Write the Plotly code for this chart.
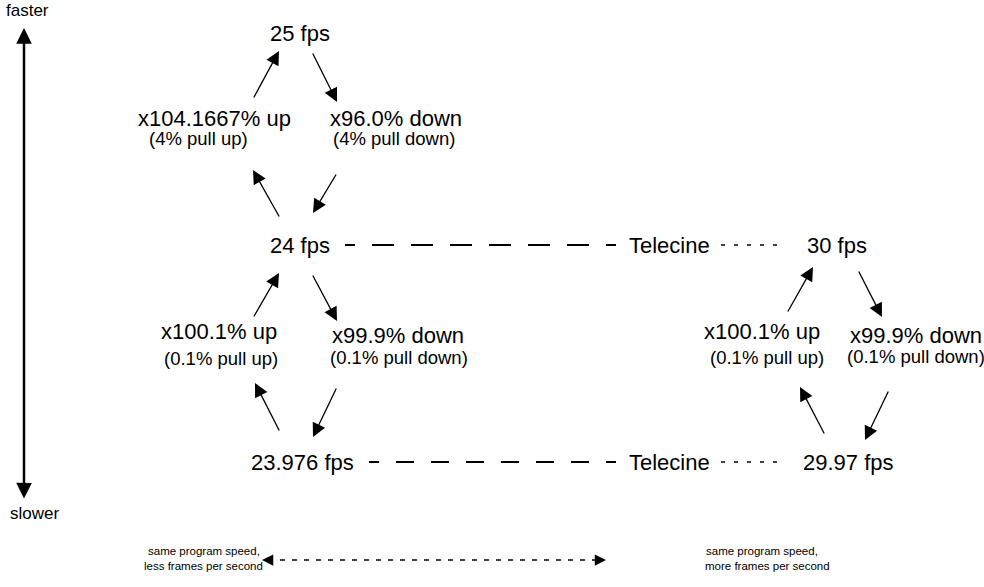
import plotly.graph_objects as go

W, H = 984, 587
MAIN_FONT = "Arial, 'Liberation Sans', sans-serif"

# ---- frame-rate nodes ----
rate_labels = ["25 fps", "24 fps", "30 fps", "23.976 fps", "29.97 fps"]
rate_x = [300, 300, 837, 302, 848]
rate_y = [33, 245, 245, 462, 462]

# ---- conversion labels ----
conv_labels = ["x104.1667% up", "x96.0% down", "x100.1% up", "x99.9% down",
               "x100.1% up", "x99.9% down"]
conv_x = [214, 396, 219, 398, 762, 916]
conv_y = [118, 118, 331, 335, 331, 335]

pull_labels = ["(4% pull up)", "(4% pull down)", "(0.1% pull up)", "(0.1% pull down)",
               "(0.1% pull up)", "(0.1% pull down)"]
pull_x = [198, 394, 221, 399, 767, 916]
pull_y = [138, 138, 358, 357, 357, 356]

# ---- conversion arrows (tail -> tip) ----
arrow_tail_x = [253, 312, 280, 337, 253, 312, 280, 337, 787, 858, 825, 889]
arrow_tail_y = [99, 52, 218, 173, 318, 274, 432, 387, 313, 270, 435, 390]
arrow_tip_x = [279, 337, 253, 313, 279, 337, 255, 313, 813, 882, 800, 865]
arrow_tip_y = [51, 102, 170, 213, 273, 321, 383, 437, 267, 317, 387, 440]

# ---- telecine links ----
telecine_labels = ["Telecine", "Telecine"]
telecine_x = [669, 669]
telecine_y = [245, 462]
dash_start_x = [345, 369]
dash_end_x = [617, 617]
dash_patterns = [
    "10px,17px,22px,17px,22px,17px,22px,17px,22px,17px,22px,17px,22px,17px,10px,60px",
    "10px,17px,18px,17px,18px,17px,18px,17px,18px,17px,18px,17px,18px,17px,10px,60px",
]
dot_start_x = [721, 721]
dot_end_x = [783, 783]

# ---- speed axis ----
speed_labels = ["faster", "slower"]
speed_label_x = [4, 8]
speed_label_y = [10, 513]
speed_axis_x = 24
speed_axis_top = 28
speed_axis_bottom = 500

# ---- bottom note ----
note_labels = ["same program speed,", "less frames per second",
               "same program speed,", "more frames per second"]
note_x = [204, 203, 762, 767]
note_y = [551, 566, 551, 566]
note_arrow_left = 262
note_arrow_right = 606
note_arrow_y = 560

fig = go.Figure()
fig.add_trace(go.Scatter(x=[0, W], y=[0, H], mode="markers",
                         marker=dict(opacity=0), hoverinfo="skip", showlegend=False))

ann = []
shapes = []

def text(t, x, y, size, family=MAIN_FONT, xanchor="center"):
    ann.append(dict(x=x, y=y, xref="x", yref="y", text=t, showarrow=False,
                    xanchor=xanchor, yanchor="middle",
                    font=dict(family=family, size=size, color="black")))

for t, x, y in zip(rate_labels, rate_x, rate_y):
    text(t, x, y, 22)
for t, x, y in zip(conv_labels, conv_x, conv_y):
    text(t, x, y, 22)
for t, x, y in zip(pull_labels, pull_x, pull_y):
    text(t, x, y, 18.5)
for t, x, y in zip(telecine_labels, telecine_x, telecine_y):
    text(t, x, y, 22)
for t, x, y in zip(speed_labels, speed_label_x, speed_label_y):
    text(t, x, y, 17, xanchor="left")
for t, x, y in zip(note_labels, note_x, note_y):
    text(t, x, y, 11.5)

# conversion arrows
for tx, ty, hx, hy in zip(arrow_tail_x, arrow_tail_y, arrow_tip_x, arrow_tip_y):
    ann.append(dict(x=hx, y=hy, ax=tx, ay=ty, xref="x", yref="y", axref="x", ayref="y",
                    text="", showarrow=True, arrowhead=2, arrowsize=2.1, arrowwidth=1.3,
                    arrowcolor="black", standoff=0, startstandoff=0))

# dashed / dotted telecine lines
for y, x0, x1, d in zip(telecine_y, dash_start_x, dash_end_x, dash_patterns):
    shapes.append(dict(type="line", xref="x", yref="y", x0=x0, x1=x1, y0=y, y1=y,
                       line=dict(color="black", width=2, dash=d)))
for y, x0, x1 in zip(telecine_y, dot_start_x, dot_end_x):
    shapes.append(dict(type="line", xref="x", yref="y", x0=x0, x1=x1, y0=y, y1=y,
                       line=dict(color="black", width=1.6, dash="4px,9px")))

# speed axis double arrow
ann.append(dict(x=speed_axis_x, y=speed_axis_top, ax=speed_axis_x, ay=speed_axis_bottom,
                xref="x", yref="y", axref="x", ayref="y", text="", showarrow=True,
                arrowhead=2, startarrowhead=2, arrowside="end+start",
                arrowsize=1.25, startarrowsize=1.25, arrowwidth=2.5,
                arrowcolor="black", standoff=0, startstandoff=0))

# bottom dotted double arrow
shapes.append(dict(type="line", xref="x", yref="y", x0=note_arrow_left + 6,
                   x1=note_arrow_right - 6, y0=note_arrow_y, y1=note_arrow_y,
                   line=dict(color="black", width=1.5, dash="5px,7px")))
for tip, tail in [(note_arrow_left, note_arrow_left + 8), (note_arrow_right, note_arrow_right - 8)]:
    ann.append(dict(x=tip, y=note_arrow_y, ax=tail, ay=note_arrow_y, xref="x", yref="y",
                    axref="x", ayref="y", text="", showarrow=True, arrowhead=2,
                    arrowsize=1.5, arrowwidth=1.5, arrowcolor="black", standoff=0))

fig.update_layout(
    width=W, height=H,
    margin=dict(l=0, r=0, t=0, b=0),
    paper_bgcolor="white", plot_bgcolor="white",
    xaxis=dict(range=[0, W], visible=False, fixedrange=True),
    yaxis=dict(range=[H, 0], visible=False, fixedrange=True),
    annotations=ann, shapes=shapes, showlegend=False,
)

fig.write_html("out.html", config={"displayModeBar": False},
               post_script="document.body.style.margin='0';document.body.style.overflow='hidden';")
